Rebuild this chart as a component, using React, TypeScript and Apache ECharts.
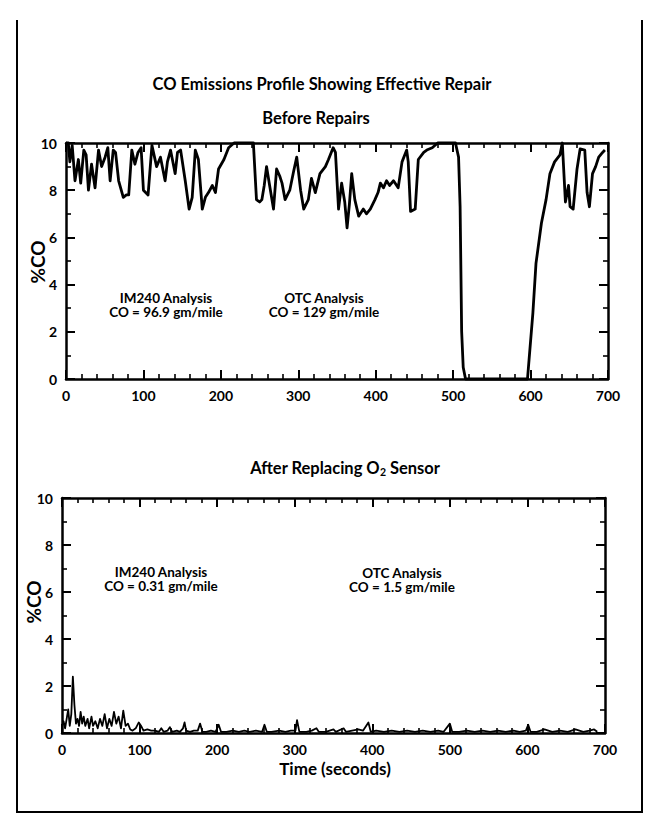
import React, { useEffect, useRef } from "react";
import * as echarts from "echarts";

// ---- Data ----
const beforeTime = [
  0, 3, 5, 8, 11.6, 16, 19, 23, 26, 29, 33, 37.5, 42, 46, 50.5, 54, 57, 61, 64, 68, 74, 78, 81, 85, 89, 93, 97,
  100, 106, 111, 117, 122, 128, 131, 135, 141, 144, 148, 154, 159, 163, 167, 171, 176, 180, 184, 189, 193, 197,
  204, 210, 217, 242, 246, 250, 253, 256, 259, 264, 268, 272, 276, 279, 283, 289, 294, 298, 303, 307, 313, 317,
  322, 328, 335, 339, 345, 348, 352, 356, 360, 363, 366, 369, 373, 378, 384, 388, 393, 399, 403, 406, 410, 414,
  418, 423, 429, 434, 440, 442, 445, 451, 455, 462, 466, 473, 480, 503, 507, 509, 511, 513, 516, 596, 598, 603,
  607, 614, 620, 625, 631, 638, 641, 645, 649, 651, 655, 660, 664, 670, 673, 676, 680, 684, 688, 693, 696,
];
const beforeCO = [
  10, 10, 9.2, 9.9, 8.4, 9.3, 8.3, 9.7, 9.5, 8.0, 9.1, 8.1, 9.7, 9.0, 9.4, 9.8, 8.4, 9.7, 9.6, 8.4, 7.7, 7.8, 7.8,
  9.7, 9.1, 9.6, 9.8, 8.0, 7.8, 9.9, 9.0, 9.4, 8.4, 9.2, 9.7, 8.7, 9.6, 9.7, 8.4, 7.2, 7.7, 9.7, 9.3, 7.2, 7.7,
  7.9, 8.2, 7.9, 8.9, 9.3, 9.8, 10, 10, 7.6, 7.5, 7.6, 8.2, 9.0, 8.0, 7.2, 8.9, 8.6, 8.3, 7.6, 8.0, 8.8, 9.4, 8.0,
  7.2, 7.6, 8.5, 7.9, 8.7, 9.0, 9.3, 9.8, 9.6, 7.2, 8.3, 7.5, 6.4, 7.4, 8.7, 7.6, 6.9, 7.2, 7.0, 7.2, 7.6, 7.9,
  8.3, 8.1, 8.4, 8.2, 8.4, 8.1, 9.2, 9.7, 9.2, 7.1, 7.2, 9.3, 9.6, 9.7, 9.8, 10, 10, 9.4, 7.3, 2.0, 0.5, 0, 0,
  0.8, 2.8, 4.9, 6.6, 7.6, 8.7, 9.2, 9.5, 10, 7.5, 8.2, 7.3, 7.2, 8.9, 9.75, 9.7, 7.9, 7.3, 8.7, 9.0, 9.4, 9.6, 9.7,
];

const afterTime = [
  0, 2, 4, 6, 8, 10, 12, 14, 16, 18, 20, 22, 24, 26, 28, 30, 33, 35, 38, 40, 43, 46, 49, 52, 55, 58, 61, 64, 67,
  70, 73, 76, 79, 82, 85, 88, 91, 95, 99, 102, 105, 110, 115, 120, 125, 128, 131, 136, 139, 142, 148, 152, 156,
  158, 160, 165, 170, 175, 178, 181, 186, 192, 198, 202, 205, 212, 220, 228, 235, 242, 250, 258, 261, 264, 270,
  280, 288, 295, 301, 303, 306, 315, 322, 328, 331, 340, 350, 353, 363, 366, 374, 382, 388, 395, 398, 405, 415,
  425, 435, 445, 455, 465, 475, 485, 492, 500, 503, 512, 522, 532, 542, 552, 562, 572, 582, 590, 598, 601, 604,
  612, 622, 632, 642, 652, 662, 672, 680, 686, 690,
];
const afterCO = [
  0.3, 0.5, 0.2, 0.6, 1.0, 0.3, 0.8, 2.4, 1.2, 0.4, 0.6, 0.3, 0.9, 0.4, 0.7, 0.3, 0.6, 0.2, 0.7, 0.3, 0.5, 0.2,
  0.6, 0.3, 0.8, 0.2, 0.6, 0.3, 0.9, 0.4, 0.7, 0.2, 0.95, 0.3, 0.4, 0.15, 0.1, 0.2, 0.45, 0.3, 0.1, 0.15, 0.1,
  0.1, 0.05, 0.2, 0.05, 0.1, 0.25, 0.05, 0.1, 0.05, 0.2, 0.45, 0.1, 0.05, 0.1, 0.1, 0.4, 0.05, 0.05, 0.1, 0.05,
  0.35, 0.05, 0.05, 0.1, 0.05, 0.1, 0.05, 0.1, 0.05, 0.35, 0.05, 0.05, 0.1, 0.05, 0.1, 0.1, 0.55, 0.05, 0.05, 0.1,
  0.2, 0.05, 0.05, 0.15, 0.05, 0.2, 0.05, 0.1, 0.15, 0.1, 0.45, 0.05, 0.1, 0.05, 0.1, 0.05, 0.1, 0.05, 0.1, 0.05,
  0.1, 0.05, 0.4, 0.05, 0.05, 0.1, 0.05, 0.1, 0.05, 0.1, 0.05, 0.1, 0.05, 0.1, 0.35, 0.05, 0.05, 0.15, 0.05, 0.1,
  0.05, 0.15, 0.05, 0.1, 0.15, 0.05,
];

const xMin = 0;
const xMax = 700;
const xStep = 100;
const yMin = 0;
const yMax = 10;
const yStep = 2;

const titleText = "CO Emissions Profile Showing Effective Repair";
const topTitle = "Before Repairs";
const bottomTitle = "After Replacing O{sub|2} Sensor";
const yName = "%CO";
const xName = "Time (seconds)";
const topNotes = [
  ["IM240 Analysis", "CO = 96.9 gm/mile"],
  ["OTC Analysis", "CO = 129 gm/mile"],
];
const bottomNotes = [
  ["IM240 Analysis", "CO = 0.31 gm/mile"],
  ["OTC Analysis", "CO = 1.5 gm/mile"],
];

const FONT = "Lato, 'Open Sans', sans-serif";
const BLACK = "#000";

function xAxisPair(gridIndex: number) {
  const base = {
    type: "value" as const,
    gridIndex,
    min: xMin,
    max: xMax,
    interval: xStep,
    splitLine: { show: false },
    axisLine: { show: true, onZero: false, lineStyle: { color: BLACK, width: 2.5 } },
    axisTick: { show: true, inside: true, length: 9, lineStyle: { color: BLACK, width: 2 } },
    minorTick: { show: true, splitNumber: 5, length: 5, lineStyle: { color: BLACK, width: 1.6 } },
  };
  return [
    {
      ...base,
      position: "bottom",
      axisLabel: { color: BLACK, fontFamily: FONT, fontWeight: "bold", fontSize: 14, margin: 9 },
    },
    { ...base, position: "top", axisLabel: { show: false } },
  ];
}

function yAxisPair(gridIndex: number) {
  const base = {
    type: "value" as const,
    gridIndex,
    min: yMin,
    max: yMax,
    interval: yStep,
    splitLine: { show: false },
    axisLine: { show: true, onZero: false, lineStyle: { color: BLACK, width: 2.5 } },
    axisTick: { show: true, inside: true, length: 9, lineStyle: { color: BLACK, width: 2 } },
    minorTick: { show: true, splitNumber: 2, length: 5, lineStyle: { color: BLACK, width: 1.6 } },
  };
  return [
    {
      ...base,
      position: "left",
      axisLabel: { color: BLACK, fontFamily: FONT, fontWeight: "bold", fontSize: 14, margin: 9 },
    },
    { ...base, position: "right", axisLabel: { show: false } },
  ];
}

function zip(xs: number[], ys: number[]) {
  return xs.map((x, i) => [x, ys[i]]);
}

function text(x: number, y: number, t: string, size: number, weight: string, extra: any = {}) {
  return {
    type: "text",
    x,
    y,
    silent: true,
    ...extra,
    style: {
      text: t,
      fill: BLACK,
      fontFamily: FONT,
      fontSize: size,
      fontWeight: weight,
      align: "center",
      verticalAlign: "middle",
      ...(extra.style || {}),
    },
  };
}

function note(x: number, y: number, lines: string[]) {
  return text(x, y, lines.join("\n"), 13.5, "bold", { style: { lineHeight: 14.5 } });
}

export default function App() {
  const ref = useRef<HTMLDivElement>(null);

  useEffect(() => {
    if (!ref.current) return;
    const chart = echarts.init(ref.current, null, { renderer: "svg" });

    const option: any = {
      animation: false,
      backgroundColor: "#fff",
      grid: [
        { left: 66, top: 143, width: 542, height: 236 },
        { left: 62, top: 498, width: 543, height: 235 },
      ],
      xAxis: [...xAxisPair(0), ...xAxisPair(1)],
      yAxis: [...yAxisPair(0), ...yAxisPair(1)],
      series: [
        {
          type: "line",
          xAxisIndex: 0,
          yAxisIndex: 0,
          data: zip(beforeTime, beforeCO),
          symbol: "none",
          clip: false,
          lineStyle: { color: BLACK, width: 2.8, join: "round" },
        },
        {
          type: "line",
          xAxisIndex: 2,
          yAxisIndex: 2,
          data: zip(afterTime, afterCO),
          symbol: "none",
          clip: false,
          lineStyle: { color: BLACK, width: 1.8, join: "round" },
        },
      ],
      graphic: [
        {
          type: "polyline",
          silent: true,
          shape: { points: [[17, 20], [17, 812], [642, 812], [642, 20]] },
          style: { stroke: BLACK, lineWidth: 2, fill: null },
        },
        text(322, 84, titleText, 16.5, "bold"),
        text(316, 118, topTitle, 16.5, "bold"),
        text(345, 468, bottomTitle, 16.5, "bold", {
          style: {
            rich: {
              sub: { fontSize: 10.5, fontFamily: FONT, fontWeight: "bold", fill: BLACK, padding: [8, 0, 0, 0] },
            },
          },
        }),
        text(37, 262, yName, 19, "bold", { rotation: Math.PI / 2 }),
        text(33, 602, yName, 19, "bold", { rotation: Math.PI / 2 }),
        text(335, 768, xName, 17, "bold"),
        note(166, 305, topNotes[0]),
        note(324, 305, topNotes[1]),
        note(161, 579, bottomNotes[0]),
        note(402, 580, bottomNotes[1]),
      ],
    };

    chart.setOption(option);
    return () => chart.dispose();
  }, []);

  return (
    <div
      ref={ref}
      style={{ position: "fixed", left: 0, top: 0, width: 651, height: 815, background: "#fff" }}
    />
  );
}
